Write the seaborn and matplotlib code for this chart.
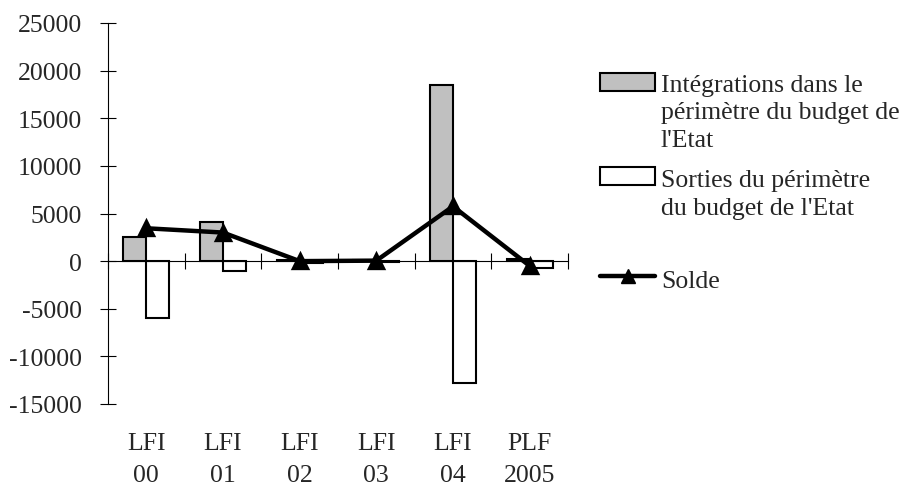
import numpy as np
import pandas as pd
import seaborn as sns
import matplotlib.pyplot as plt
from matplotlib.patches import Rectangle
from matplotlib.lines import Line2D

# valeurs (en millions)
periodes = ["LFI\n00", "LFI\n01", "LFI\n02", "LFI\n03", "LFI\n04", "PLF\n2005"]
integrations = [2550, 4100, 150, 120, 18500, 200]
sorties = [-6000, -1000, -150, -120, -12800, -700]
solde = [3450, 3000, 0, 50, 5750, -500]

nom_integ = "Intégrations dans le\npérimètre du budget de\nl'Etat"
nom_sorties = "Sorties du périmètre\ndu budget de l'Etat"
nom_solde = "Solde"

sns.set_theme(style="white")
plt.rcParams['font.family'] = ['Liberation Serif', 'DejaVu Serif']
plt.rcParams['axes.unicode_minus'] = False

W, H = 909, 489
FS = 18.5
fig = plt.figure(figsize=(W / 100, H / 100), dpi=100)
ax = fig.add_axes([108 / W, 1 - 405 / H, 460 / W, 381 / H])

df = pd.DataFrame({
    "periode": periodes * 2,
    "valeur": integrations + sorties,
    "serie": [nom_integ] * len(periodes) + [nom_sorties] * len(periodes),
})

sns.barplot(data=df, x="periode", y="valeur", hue="serie", order=periodes,
            palette={nom_integ: "#C0C0C0", nom_sorties: "white"},
            edgecolor="black", linewidth=1.5, width=0.6, gap=0,
            legend=False, ax=ax)
sns.pointplot(x=periodes, y=solde, order=periodes, color="black", markers="^",
              markersize=10, linewidth=3.2, errorbar=None, ax=ax)

ax.set_xlim(-0.5, len(periodes) - 0.5)
ax.set_ylim(-15000, 25000)
ax.set_yticks(np.arange(-15000, 25001, 5000))
ax.set_xlabel("")
ax.set_ylabel("")

for s in ["top", "right"]:
    ax.spines[s].set_visible(False)
ax.spines["left"].set_linewidth(0.8)
ax.spines["left"].set_color("black")
ax.spines["bottom"].set_position(("data", 0))
ax.spines["bottom"].set_linewidth(0.8)
ax.spines["bottom"].set_color("black")

# graduations aux limites des categories, libelles sous le graphique
ax.set_xticks(np.arange(-0.5, len(periodes), 1.0))
ax.set_xticklabels([])
ax.set_xticks(np.arange(len(periodes)), minor=True)
ax.set_xticklabels(periodes, minor=True, fontsize=FS, linespacing=1.6)
ax.tick_params(axis="x", which="major", direction="inout", length=12, width=0.8, color="black")
ax.tick_params(axis="x", which="minor", length=0, pad=123)
ax.tick_params(axis="y", direction="inout", length=12, width=0.8, color="black",
               labelsize=FS, pad=12.5)
ax.tick_params(left=True, bottom=True, which="both")


def px(x, y):
    return x / W, 1 - y / H


# legende
lg = dict(fontsize=FS, va="baseline", ha="left")
for i, t in enumerate(nom_integ.split("\n")):
    fig.text(*px(661, 92 + i * 27.5), t, **lg)
fig.add_artist(Rectangle(px(600, 92), 55 / W, 18 / H, transform=fig.transFigure,
                         facecolor="#C0C0C0", edgecolor="black", linewidth=1.5))
for i, t in enumerate(nom_sorties.split("\n")):
    fig.text(*px(661, 187 + i * 27.5), t, **lg)
fig.add_artist(Rectangle(px(600, 186), 55 / W, 18 / H, transform=fig.transFigure,
                         facecolor="white", edgecolor="black", linewidth=1.5))
fig.text(*px(661, 288), nom_solde, **lg)
fig.add_artist(Line2D([600 / W, 655 / W], [1 - 277 / H] * 2, transform=fig.transFigure,
                      color="black", linewidth=3.2))
fig.add_artist(Line2D([627.5 / W], [1 - 277 / H], transform=fig.transFigure,
                      color="black", marker="^", markersize=10, linestyle="none"))

fig.savefig("out.png", dpi=100, facecolor="white")
